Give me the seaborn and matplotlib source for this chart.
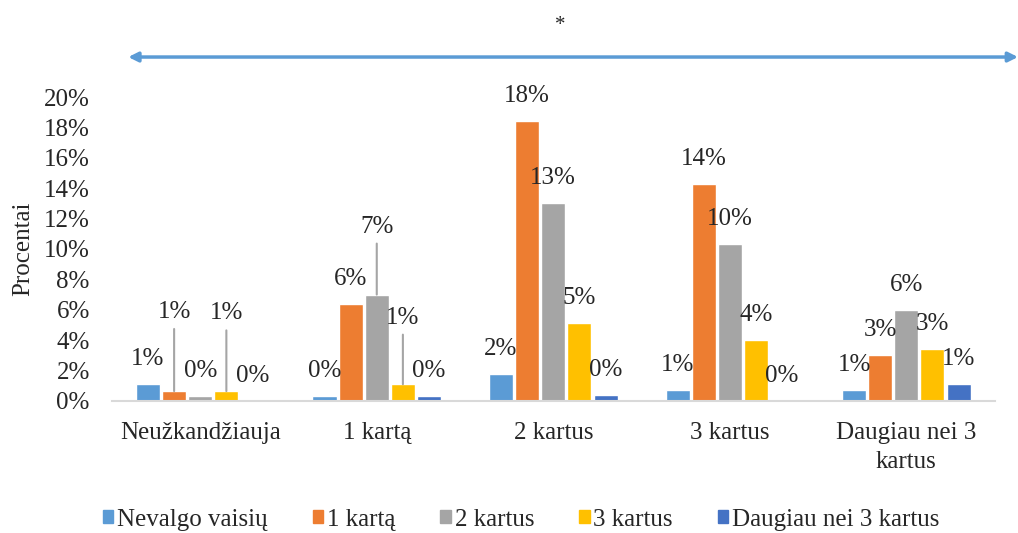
import numpy as np
import pandas as pd
import seaborn as sns
import matplotlib.pyplot as plt
from matplotlib.patches import Patch

# duomenys (procentai), nuskaityti nuo paveikslo
categories = ["Neužkandžiauja", "1 kartą", "2 kartus", "3 kartus", "Daugiau nei 3\nkartus"]
series = ["Nevalgo vaisių", "1 kartą", "2 kartus", "3 kartus", "Daugiau nei 3 kartus"]
nevalgo = [1.1, 0.35, 1.8, 0.7, 0.7]
kart1 = [0.65, 6.4, 18.4, 14.3, 3.0]
kart2 = [0.35, 7.0, 13.0, 10.3, 6.0]
kart3 = [0.65, 1.1, 5.1, 4.0, 3.4]
daugiau = [0.0, 0.35, 0.4, 0.0, 1.1]
colors = ["#5B9BD5", "#ED7D31", "#A5A5A5", "#FFC000", "#4472C4"]

values = [nevalgo, kart1, kart2, kart3, daugiau]
rows = []
for s, vals in zip(series, values):
    for c, v in zip(categories, vals):
        rows.append({"kat": c, "serija": s, "proc": v})
df = pd.DataFrame(rows)

sns.set_style("white")
plt.rcParams['font.family'] = ['Liberation Serif', 'DejaVu Serif']
FS = 18

fig = plt.figure(figsize=(10.18, 5.33), dpi=100)
ax = fig.add_axes([0.11, 0.2477, 0.867, 0.5703])

sns.barplot(data=df, x="kat", y="proc", hue="serija", hue_order=series,
            order=categories, palette=colors, width=0.74, gap=0.08,
            saturation=1, ax=ax, legend=True)

ax.set_ylim(0, 20)
ax.set_yticks(range(0, 21, 2))
ax.set_yticklabels([f"{t}%" for t in range(0, 21, 2)], fontsize=FS)
ax.set_xlabel("")
ax.set_ylabel("Procentai", fontsize=FS, labelpad=7)
ax.tick_params(axis='x', length=0, pad=15, labelsize=FS)
ax.tick_params(axis='y', length=0, pad=16)
for lbl in ax.get_xticklabels():
    lbl.set_linespacing(1.45)
    lbl.set_verticalalignment('top')
for side in ["top", "right", "left"]:
    ax.spines[side].set_visible(False)
ax.spines["bottom"].set_color("#D9D9D9")
ax.spines["bottom"].set_linewidth(1.5)
ax.set_xlim(-0.5, len(categories) - 0.5)

# etiketės su rodyklių linijomis
leader = {(0, 1): 57, (0, 3): 56, (1, 2): 49, (1, 3): 48}
for si, cont in enumerate(ax.containers):
    for ci, bar in enumerate(cont):
        v = values[si][ci]
        x = bar.get_x() + bar.get_width() / 2
        y = bar.get_height()
        txt = f"{int(v + 0.5)}%"
        if (ci, si) in leader:
            ax.annotate(txt, (x, y), xytext=(0, leader[(ci, si)]),
                        textcoords="offset points", ha="center", va="center",
                        fontsize=FS,
                        arrowprops=dict(arrowstyle="-", color="#A5A5A5",
                                        lw=1.5, shrinkA=2, shrinkB=0))
        else:
            ax.annotate(txt, (x, y), xytext=(0, 18), textcoords="offset points",
                        ha="center", va="center", fontsize=FS)

ax.get_legend().remove()
handles = [Patch(color=c) for c in colors]
fig.legend(handles, series, loc="center", bbox_to_anchor=(0.512, 0.025),
           ncol=5, frameon=False, fontsize=FS, handlelength=0.42,
           handleheight=0.42, handletextpad=0.15, columnspacing=1.8)

# žvaigždutė ir dvipusė rodyklė viršuje
fig.text(0.55, 0.953, "*", ha="center", va="center", fontsize=15)
ax.annotate("", xy=(0.126, 0.893), xytext=(1.0, 0.893),
            xycoords="figure fraction", textcoords="figure fraction",
            arrowprops=dict(arrowstyle="<|-|>", color="#5B9BD5", lw=2.5,
                            mutation_scale=14, shrinkA=0, shrinkB=0))

fig.savefig("out.png", dpi=100)
